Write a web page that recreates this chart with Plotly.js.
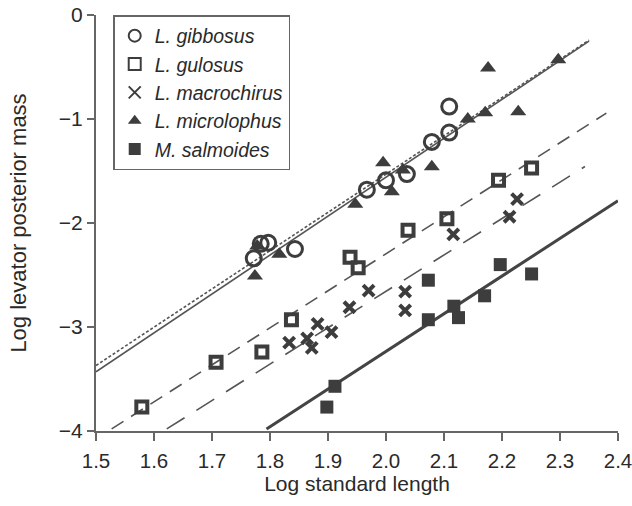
<!DOCTYPE html>
<html>
<head>
<meta charset="utf-8">
<script src="https://cdn.plot.ly/plotly-3.0.1.min.js"></script>
<style>html,body{margin:0;padding:0;background:#fff;}#chart{width:632px;height:506px;}</style>
</head>
<body>
<div id="chart"></div>
<script>
// Species names
const speciesNames = ['<i>L. gibbosus</i>', '<i>L. gulosus</i>', '<i>L. macrochirus</i>', '<i>L. microlophus</i>', '<i>M. salmoides</i>'];

// L. gibbosus (open circles)
const gibbosusX = [1.772, 1.784, 1.797, 1.843, 1.967, 2.000, 2.036, 2.079, 2.109, 2.109];
const gibbosusY = [-2.34, -2.20, -2.19, -2.25, -1.68, -1.59, -1.53, -1.22, -1.13, -0.88];

// L. gulosus (open squares)
const gulosusX = [1.579, 1.707, 1.786, 1.837, 1.938, 1.952, 2.038, 2.105, 2.194, 2.251];
const gulosusY = [-3.77, -3.34, -3.24, -2.93, -2.33, -2.43, -2.07, -1.96, -1.59, -1.47];

// L. macrochirus (crosses)
const macrochirusX = [1.833, 1.864, 1.872, 1.882, 1.906, 1.937, 1.970, 2.033, 2.033, 2.116, 2.213, 2.226];
const macrochirusY = [-3.15, -3.11, -3.20, -2.97, -3.05, -2.81, -2.65, -2.66, -2.84, -2.11, -1.94, -1.77];

// L. microlophus (triangles)
const microlophusX = [1.774, 1.778, 1.816, 1.947, 1.995, 2.010, 2.029, 2.079, 2.141, 2.171, 2.176, 2.228, 2.297];
const microlophusY = [-2.51, -2.22, -2.30, -1.82, -1.42, -1.70, -1.49, -1.46, -1.00, -0.94, -0.51, -0.93, -0.43];

// M. salmoides (filled squares)
const salmoidesX = [1.898, 1.912, 2.073, 2.073, 2.117, 2.125, 2.170, 2.197, 2.251];
const salmoidesY = [-3.77, -3.57, -2.93, -2.55, -2.80, -2.91, -2.70, -2.40, -2.49];

// Fitted regression lines: slope, intercept, x-extent
const fitSlope     = [3.74, 3.68, 3.56, 3.50, 3.62];
const fitIntercept = [-9.04, -8.89, -9.416, -9.657, -10.474];
const fitXStart    = [1.5, 1.5, 1.527, 1.622, 1.794];
const fitXEnd      = [2.35, 2.35, 2.38, 2.343, 2.4];

const xTickVals = [1.5, 1.6, 1.7, 1.8, 1.9, 2.0, 2.1, 2.2, 2.3, 2.4];
const yTickVals = [0, -1, -2, -3, -4];

const dark = '#3d3d3d';
const fitStyles = [
  {color: '#555', width: 1.6, dash: 'solid'},
  {color: '#555', width: 1.6, dash: '3px,2px'},
  {color: '#555', width: 1.6, dash: '14px,9px'},
  {color: '#555', width: 1.6, dash: '21px,14px'},
  {color: '#444', width: 3, dash: 'solid'}
];

const traces = [];
for (let i = 0; i < fitSlope.length; i++) {
  const xs = [fitXStart[i], fitXEnd[i]];
  traces.push({
    x: xs, y: xs.map(v => fitSlope[i] * v + fitIntercept[i]),
    mode: 'lines', line: fitStyles[i], showlegend: false, hoverinfo: 'skip', cliponaxis: false
  });
}

const markerDefs = [
  {x: gibbosusX, y: gibbosusY, marker: {symbol: 'circle-open', size: 15, color: dark, line: {width: 3, color: dark}}},
  {x: gulosusX, y: gulosusY, marker: {symbol: 'square-open', size: 11, color: dark, line: {width: 4, color: dark}}},
  {x: macrochirusX, y: macrochirusY, marker: {symbol: 'x-thin-open', size: 11, color: dark, line: {width: 4, color: dark}}},
  {x: microlophusX, y: microlophusY, marker: {symbol: 'triangle-up', size: 14, color: dark, line: {width: 0}}},
  {x: salmoidesX, y: salmoidesY, marker: {symbol: 'square', size: 13, color: dark, line: {width: 0}}}
];
markerDefs.forEach((d, i) => {
  traces.push({
    x: d.x, y: d.y, mode: 'markers', name: speciesNames[i], marker: d.marker,
    cliponaxis: false
  });
});

const layout = {
  width: 632, height: 506,
  margin: {l: 96, r: 14, t: 15, b: 75},
  paper_bgcolor: '#fff', plot_bgcolor: '#fff',
  font: {family: '"Liberation Sans", Arial, sans-serif', size: 21, color: '#2a2a2a'},
  showlegend: true,
  legend: {
    x: 0.033, y: 1.0, xanchor: 'left', yanchor: 'top',
    bgcolor: '#fff', bordercolor: '#666', borderwidth: 1.5,
    font: {size: 19.5, color: '#2a2a2a'},
    traceorder: 'normal', itemsizing: 'constant', itemwidth: 30
  },
  xaxis: {
    range: [1.5, 2.4], tickvals: xTickVals, ticktext: xTickVals.map(v => v.toFixed(1)),
    showgrid: false, zeroline: false, showline: true, linecolor: '#666', linewidth: 2,
    ticks: 'outside', ticklen: 8, tickwidth: 2, tickcolor: '#666', ticklabelstandoff: 2,
    ticklabeloverflow: 'allow', tickfont: {size: 20.5},
    title: {text: 'Log standard length', font: {size: 21, color: '#2a2a2a'}, standoff: 5}
  },
  yaxis: {
    range: [-4, 0], tickvals: yTickVals,
    showgrid: false, zeroline: false, showline: true, linecolor: '#666', linewidth: 2,
    ticks: 'outside', ticklen: 7, tickwidth: 2, tickcolor: '#666',
    ticklabeloverflow: 'allow',
    title: {text: 'Log levator posterior mass', font: {size: 22, color: '#2a2a2a'}, standoff: 26}
  }
};

Plotly.newPlot('chart', traces, layout, {displayModeBar: false, staticPlot: true});
</script>
</body>
</html>
